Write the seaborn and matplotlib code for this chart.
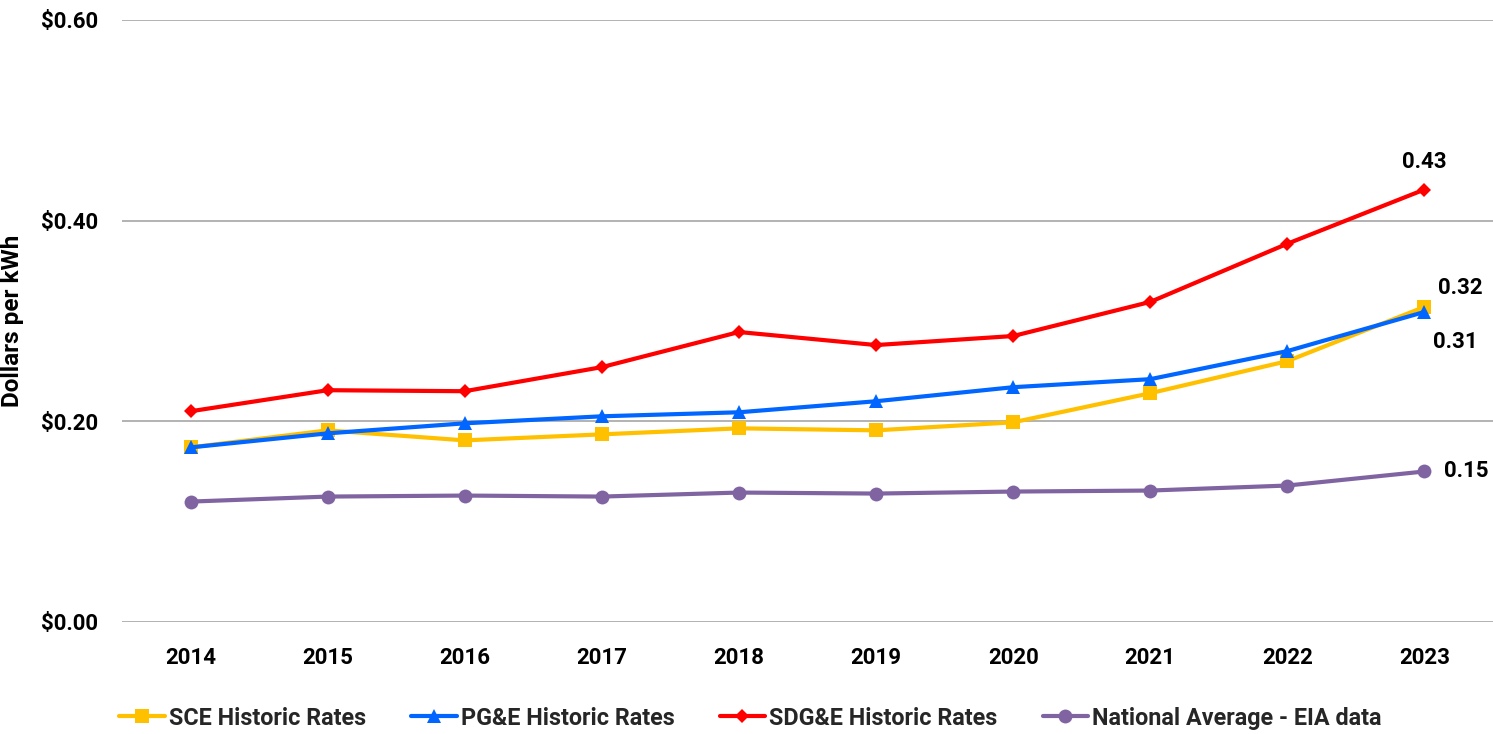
import numpy as np
import pandas as pd
import matplotlib.pyplot as plt
import seaborn as sns

# Values (dollars per kWh)
years = ["2014", "2015", "2016", "2017", "2018", "2019", "2020", "2021", "2022", "2023"]
sce = [0.174, 0.191, 0.181, 0.187, 0.193, 0.191, 0.199, 0.228, 0.260, 0.314]
pge = [0.174, 0.188, 0.198, 0.205, 0.209, 0.220, 0.234, 0.242, 0.270, 0.309]
sdge = [0.210, 0.231, 0.230, 0.254, 0.289, 0.276, 0.285, 0.319, 0.377, 0.431]
national = [0.120, 0.125, 0.126, 0.125, 0.129, 0.128, 0.130, 0.131, 0.136, 0.150]

series_names = ["SCE Historic Rates", "PG&E Historic Rates", "SDG&E Historic Rates",
                "National Average - EIA data"]
end_labels = ["0.32", "0.31", "0.43", "0.15"]

sns.set_theme(style="white")
plt.rcParams["font.family"] = ["Roboto", "DejaVu Sans"]
plt.rcParams["font.weight"] = "bold"

fig = plt.figure(figsize=(14.93, 7.34), dpi=100)
ax = fig.add_axes([0.0817, 0.1526, 0.9183, 0.8202])

x = np.arange(len(years))
styles = [
    (sce, "#FFC000", "s", 10),
    (pge, "#0066FF", "^", 10),
    (sdge, "#FF0000", "D", 7.5),
    (national, "#8064A2", "o", 10),
]
for (vals, color, mk, ms), name in zip(styles, series_names):
    df = pd.DataFrame({"x": x, "y": vals})
    sns.lineplot(data=df, x="x", y="y", ax=ax, color=color, marker=mk, markersize=ms,
                 markeredgewidth=0, linewidth=3, label=name)

# end-of-series labels
offsets = [(10, 6, "left", "bottom"), (6, -14, "left", "top"),
           (0, 12, "center", "bottom"), (14, 0, "left", "center")]
for (vals, color, mk, ms), lab, (dx, dy, ha, va) in zip(styles, end_labels, offsets):
    ax.annotate(lab, (x[-1], vals[-1]), xytext=(dx, dy), textcoords="offset points",
                ha=ha, va=va, fontsize=16, fontweight="bold", color="black")

ax.set_xlim(-0.5, len(years) - 0.5)
ax.set_ylim(0, 0.6)
ax.set_xticks(x)
ax.set_xticklabels(years)
ax.set_yticks([0, 0.2, 0.4, 0.6])
ax.set_yticklabels(["$0.00", "$0.20", "$0.40", "$0.60"])
ax.tick_params(axis="both", labelsize=16, length=0, labelcolor="black")
ax.tick_params(axis="x", pad=18)
ax.tick_params(axis="y", pad=17)
for lbl in ax.get_xticklabels() + ax.get_yticklabels():
    lbl.set_fontweight("bold")
ax.set_xlabel("")
ax.set_ylabel("Dollars per kWh", fontsize=17.5, fontweight="bold", color="black")
ax.yaxis.set_label_coords(-0.0715, 0.5)

ax.grid(axis="y", color="#A6A6A6", linewidth=1.2)
ax.grid(axis="x", visible=False)
for s in ax.spines.values():
    s.set_visible(False)

leg = ax.legend(loc="center left", bbox_to_anchor=(-0.0088, -0.1595), ncol=4, frameon=False,
                borderaxespad=0, handlelength=1.95, handletextpad=0.17, columnspacing=1.94,
                prop={"weight": "bold", "size": 16.8})

fig.savefig("out.png", dpi=100)
